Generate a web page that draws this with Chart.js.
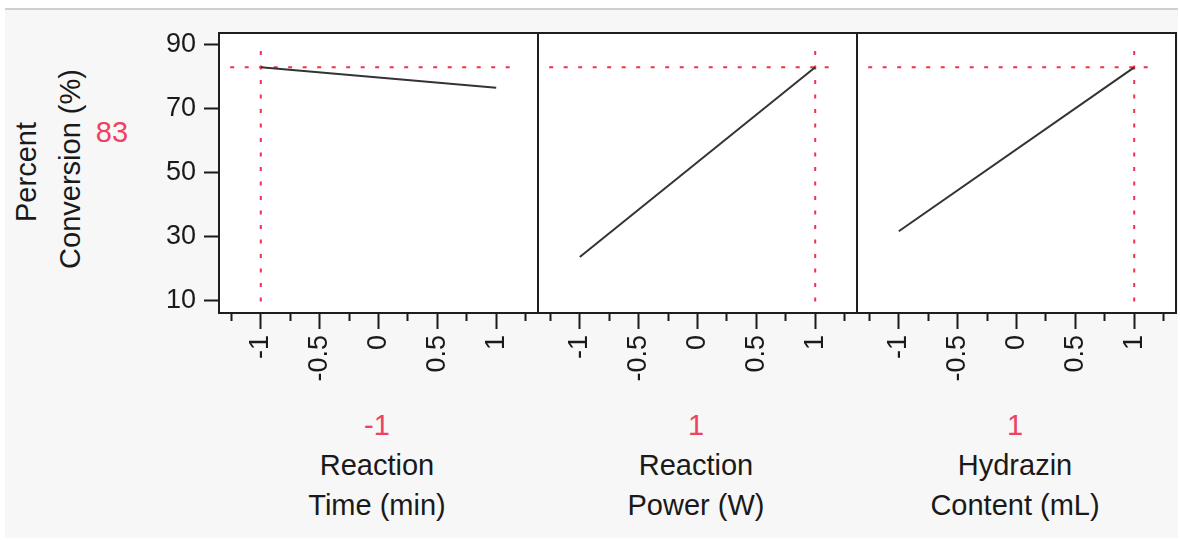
<!DOCTYPE html>
<html>
<head>
<meta charset="utf-8">
<script src="https://cdn.jsdelivr.net/npm/chart.js@4.4.1/dist/chart.umd.min.js"></script>
<style>
  body { margin: 0; width: 1180px; height: 540px; background: #fff; position: relative; overflow: hidden; font-family: 'Liberation Sans', Arial, sans-serif; }
  #frame { position: absolute; left: 5px; top: 8px; width: 1173px; height: 528px; background: #f7f7f7; border-top: 2px solid #cfcfcf; }
  canvas { position: absolute; top: 3px; }
  .lbl { position: absolute; font-size: 29px; color: #1a1a1a; text-align: center; line-height: 40px; white-space: nowrap; }
  .rot { position: absolute; font-size: 29px; color: #1a1a1a; white-space: nowrap; transform: translate(-50%, -50%) rotate(-90deg); }
  .red { color: #ee4262; }
</style>
</head>
<body>
<div id="frame"></div>
<canvas id="panel0" width="402" height="390" style="left:140px"></canvas>
<canvas id="panel1" width="327" height="390" style="left:534px"></canvas>
<canvas id="panel2" width="327" height="390" style="left:853px"></canvas>
<div id="labels"></div>
<script>
const factorNames = [['Reaction', 'Time (min)'], ['Reaction', 'Power (W)'], ['Hydrazin', 'Content (mL)']];
const currentX = [-1, 1, 1];
const responseName = ['Percent', 'Conversion (%)'];
const predicted = 83;

const profileX = [-1, 1];
const timeProfile = [83, 76.6];
const powerProfile = [23.6, 83];
const hydrazinProfile = [31.7, 83];
const profiles = [timeProfile, powerProfile, hydrazinProfile];

const yTicks = [10, 20, 30, 40, 50, 60, 70, 80, 90];
const yLabelTicks = [10, 30, 50, 70, 90];
const xMajorTicks = [-1, -0.5, 0, 0.5, 1];
const xMinorTicks = [-1.25, -0.75, -0.25, 0.25, 0.75, 1.25];

// extent of the red cross-hair lines, in data units
const crossX = [-1.26, 1.16];
const crossY = [9.7, 89.5];

const X_MIN = -1.355, X_MAX = 1.355;
const Y_MIN = 6.1, Y_MAX = 93.75;
const INK = '#1a1a1a';
const RED = '#f0304f';
const FONT = "'Liberation Sans', Arial, sans-serif";

const plotFrame = {
  id: 'plotFrame',
  beforeDraw(chart) {
    const { ctx, chartArea: a } = chart;
    ctx.save();
    ctx.fillStyle = '#fff';
    ctx.fillRect(a.left, a.top, a.right - a.left, a.bottom - a.top);
    ctx.restore();
  },
  afterDraw(chart) {
    const { ctx, chartArea: a } = chart;
    ctx.save();
    ctx.strokeStyle = '#1e1e1e';
    ctx.lineWidth = 2;
    ctx.strokeRect(a.left, a.top, a.right - a.left, a.bottom - a.top);
    ctx.restore();
  }
};

function buildPanel(index) {
  const showY = index === 0;
  const xNow = currentX[index];
  const profile = profiles[index];

  new Chart(document.getElementById('panel' + index), {
    type: 'line',
    data: {
      datasets: [
        { data: profileX.map((x, i) => ({ x, y: profile[i] })), borderColor: '#333', borderWidth: 2 },
        { data: crossX.map(x => ({ x, y: predicted })), borderColor: RED, borderWidth: 2, borderDash: [4, 10.5] },
        { data: crossY.map(y => ({ x: xNow, y })), borderColor: RED, borderWidth: 2, borderDash: [4, 10.5] },
      ].map(d => ({ ...d, xAxisID: 'x', yAxisID: 'y', pointRadius: 0, fill: false, tension: 0 })),
    },
    options: {
      responsive: false,
      animation: false,
      events: [],
      layout: { padding: { top: 30, right: 4, left: showY ? 0 : 4, bottom: 0 } },
      plugins: { legend: { display: false }, tooltip: { enabled: false } },
      scales: {
        xMinor: {
          type: 'linear', axis: 'x', position: 'bottom', weight: 0, min: X_MIN, max: X_MAX,
          afterBuildTicks: s => { s.ticks = xMinorTicks.map(v => ({ value: v })); },
          afterFit: s => { s.height = 0; },
          ticks: { display: false },
          grid: { drawOnChartArea: false, tickLength: 8, tickWidth: 2, tickColor: INK },
          border: { display: false },
        },
        x: {
          type: 'linear', position: 'bottom', weight: 1, min: X_MIN, max: X_MAX,
          afterBuildTicks: s => { s.ticks = xMajorTicks.map(v => ({ value: v })); },
          afterFit: s => { s.height = 80; },
          ticks: {
            minRotation: 90, maxRotation: 90, autoSkip: false, padding: 6,
            color: INK, font: { size: 27, family: FONT },
            callback: v => String(v),
          },
          grid: { drawOnChartArea: false, tickLength: 16, tickWidth: 2, tickColor: INK },
          border: { display: false },
        },
        y: {
          display: showY, min: Y_MIN, max: Y_MAX,
          afterBuildTicks: s => { s.ticks = yTicks.map(v => ({ value: v })); },
          afterFit: s => { s.width = showY ? 79 : 0; },
          ticks: {
            padding: 8, color: INK, font: { size: 27, family: FONT },
            callback: v => (yLabelTicks.includes(v) ? String(v) : ''),
          },
          grid: { drawOnChartArea: false, tickLength: 15, tickWidth: 2, tickColor: INK },
          border: { display: false },
        },
      },
    },
    plugins: [plotFrame],
  });
}

[0, 1, 2].forEach(buildPanel);

// text around the panels
const labels = document.getElementById('labels');
const panelCenters = [377, 696, 1015];
factorNames.forEach((name, i) => {
  const div = document.createElement('div');
  div.className = 'lbl';
  div.style.left = panelCenters[i] + 'px';
  div.style.top = '405px';
  div.style.transform = 'translateX(-50%)';
  div.innerHTML = `<span class="red">${currentX[i]}</span><br>${name[0]}<br>${name[1]}`;
  labels.appendChild(div);
});

[[26, 172], [70, 169]].forEach(([cx, cy], i) => {
  const div = document.createElement('div');
  div.className = 'rot';
  div.style.left = cx + 'px';
  div.style.top = cy + 'px';
  div.textContent = responseName[i];
  labels.appendChild(div);
});

const pred = document.createElement('div');
pred.className = 'lbl red';
pred.style.left = '112px';
pred.style.top = '112px';
pred.style.transform = 'translateX(-50%)';
pred.textContent = predicted;
labels.appendChild(pred);
</script>
</body>
</html>
